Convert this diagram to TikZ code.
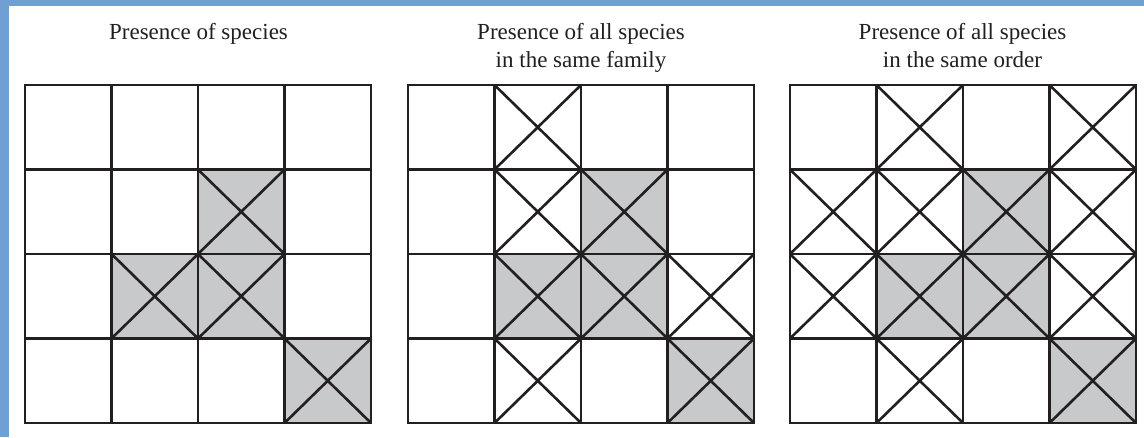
\documentclass[tikz,border=0pt]{standalone}
\usepackage{fontspec}
\setmainfont{Liberation Serif}
\definecolor{frameblue}{HTML}{6F9FD3}
\definecolor{cellgray}{HTML}{C8C9CB}
\definecolor{ink}{HTML}{231F20}
% one 4x4 grid: #1 left edge, #2 crossed cells (col/row), #3 shaded cells
\newcommand\speciesgrid[3]{%
  \begin{scope}[shift={(#1,85)}, x=86.5pt, y=-84.5pt]
    \foreach \c/\r in {#3} \fill[shaded] (\c-1,\r-1) rectangle (\c,\r);
    \foreach \c/\r in {#2} \draw[cross] (\c-1,\r-1) -- (\c,\r) (\c,\r-1) -- (\c-1,\r);
    \foreach \i in {1,2,3} \draw[gridline] (\i,0) -- (\i,4) (0,\i) -- (4,\i);
    \draw[gridline] (0,0) rectangle (4,4);
  \end{scope}}
\begin{document}
\begin{tikzpicture}[x=1pt, y=-1pt,
  gridline/.style={draw=ink, line width=2.9pt, line join=miter},
  cross/.style={draw=ink, line width=2.6pt},
  shaded/.style={fill=cellgray},
  title/.style={font=\fontsize{23}{28}\selectfont, anchor=base, text=ink, inner sep=0pt}]
\useasboundingbox (0,0) rectangle (1144,437);
\fill[white] (0,0) rectangle (1144,437);
\fill[frameblue] (0,0) rectangle (1144,6);
\fill[frameblue] (0,0) rectangle (9,437);

% titles
\node[title] (t1) at (198.5,39) {Presence of species};
\node[title] (t2a) at (581,39) {Presence of all species};
\node[title] (t2b) at (581,67) {in the same family};
\node[title] (t3a) at (962.5,39) {Presence of all species};
\node[title] (t3b) at (962.5,67) {in the same order};

% species
\speciesgrid{25}{3/2, 2/3, 3/3, 4/4}{3/2, 2/3, 3/3, 4/4}
% family
\speciesgrid{408}{2/1, 2/2, 3/2, 2/3, 3/3, 4/3, 2/4, 4/4}{3/2, 2/3, 3/3, 4/4}
% order
\speciesgrid{790}{2/1, 4/1, 1/2, 2/2, 3/2, 4/2, 1/3, 2/3, 3/3, 4/3, 2/4, 4/4}{3/2, 2/3, 3/3, 4/4}
\end{tikzpicture}
\end{document}
